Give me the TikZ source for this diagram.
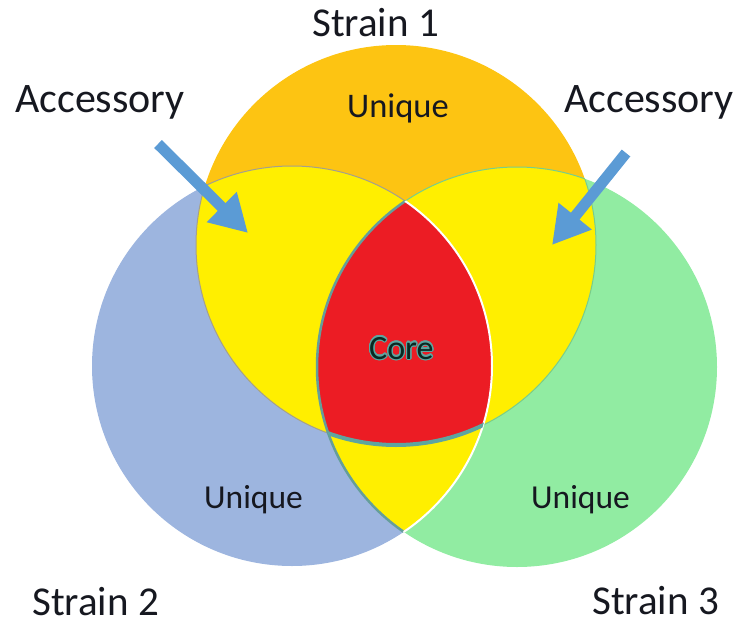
\documentclass[tikz,border=0pt]{standalone}
\usepackage{fontspec}
\setmainfont{Carlito}
\usepackage[copies]{contour}
\usetikzlibrary{arrows.meta}

\definecolor{sOrange}{RGB}{253,196,18}
\definecolor{sYellow}{RGB}{255,239,0}
\definecolor{sRed}{RGB}{236,28,36}
\definecolor{sBlue}{RGB}{157,181,223}
\definecolor{sGreen}{RGB}{145,236,162}
\definecolor{sArrow}{RGB}{91,155,213}
\definecolor{sTeal}{RGB}{94,165,160}
\definecolor{sText}{RGB}{22,24,32}
\definecolor{sCoreText}{RGB}{10,40,34}
\definecolor{sEdge}{RGB}{165,160,140}
\definecolor{sGreenEdge}{RGB}{120,205,140}

\newcommand{\circOne}{(396,245) circle[radius=200pt]}
\newcommand{\circTwo}{(292,366) circle[radius=200pt]}
\newcommand{\circThree}{(517,367) circle[radius=200pt]}

\begin{document}
\begin{tikzpicture}[x=1pt,y=-1pt,
  biglabel/.style={font=\fontsize{41}{48}\selectfont, text=sText, inner sep=0pt, anchor=base west},
  regionlabel/.style={font=\fontsize{33.5}{40}\selectfont, text=sText, inner sep=0pt, anchor=base west},
  pointer/.style={draw=sArrow, line width=11pt, line cap=butt,
    -{Triangle[length=37pt,width=40pt]}}]
\useasboundingbox (0,0) rectangle (742,624);

% the three strain sets
\fill[sOrange] \circOne;
\fill[sBlue] \circTwo;
\fill[sGreen] \circThree;

% accessory overlaps
\begin{scope}
  \clip \circOne;
  \fill[sYellow] \circTwo;
  \fill[sYellow] \circThree;
\end{scope}
\begin{scope}
  \clip \circTwo;
  \fill[sYellow] \circThree;
\end{scope}

% core: shared by all three
\begin{scope}
  \clip \circOne;
  \clip \circTwo;
  \fill[sRed] \circThree;
\end{scope}

% boundary lines inside the overlaps
\begin{scope}
  \clip \circOne;
  \draw[sEdge, line width=1pt] \circTwo;
  \draw[sGreenEdge, line width=1pt] \circThree;
\end{scope}
\begin{scope}
  \clip \circTwo;
  \draw[sEdge, line width=1pt] \circOne;
  \draw[sTeal!80!gray, line width=2.5pt] \circThree;
\end{scope}
\begin{scope}
  \clip \circThree;
  \draw[sGreenEdge, line width=1pt] \circOne;
  \draw[white, line width=2pt] \circTwo;
\end{scope}
\begin{scope}
  \clip \circTwo;
  \clip \circThree;
  \draw[sTeal, line width=4pt] \circOne;
\end{scope}

% labels
\node[biglabel] (strain1) at (312,36) {Strain 1};
\node[biglabel] (strain2) at (32,615) {Strain 2};
\node[biglabel] (strain3) at (592,614) {Strain 3};
\node[biglabel, font=\fontsize{42}{48}\selectfont] (accL) at (15,112) {Accessory};
\node[biglabel, font=\fontsize{42}{48}\selectfont] (accR) at (564,112) {Accessory};

\node[regionlabel, font=\fontsize{34.5}{40}\selectfont] (unique1) at (347,117) {Unique};
\node[regionlabel] (unique2) at (204,508) {Unique};
\node[regionlabel] (unique3) at (531,508) {Unique};
\contourlength{1.2pt}
\node[regionlabel, font=\fontsize{34}{40}\selectfont] (core) at (369,359)
  {\contour{sTeal}{\textcolor{sCoreText}{Core}}};

% pointers to the accessory regions
\coordinate (accLtail) at (158,144);
\coordinate (accLtip) at (248,233);
\coordinate (accRtail) at (626,153);
\coordinate (accRtip) at (552,245);
\draw[pointer] (accLtail) -- (accLtip);
\draw[pointer] (accRtail) -- (accRtip);
\end{tikzpicture}
\end{document}
